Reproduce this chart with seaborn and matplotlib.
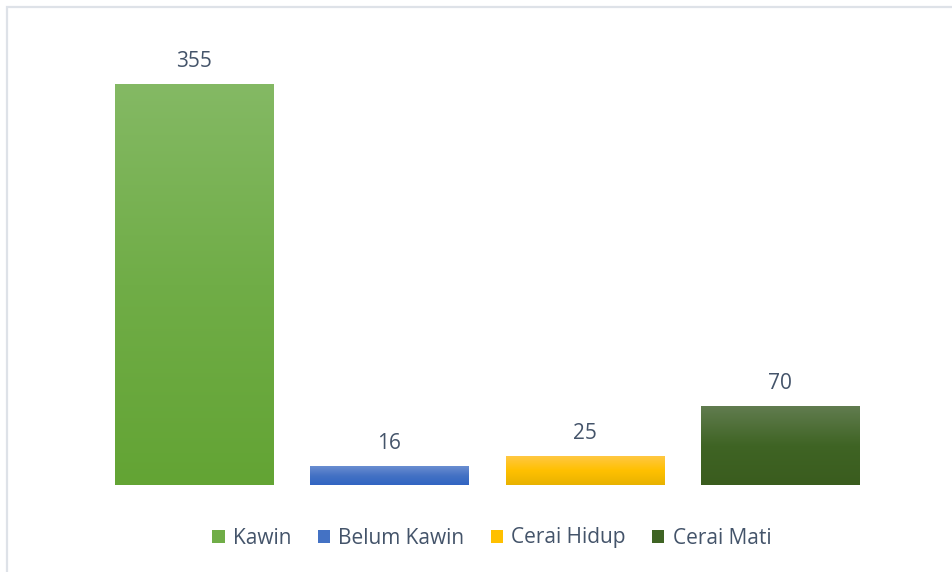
import numpy as np
import pandas as pd
import matplotlib
matplotlib.use("Agg")
import matplotlib.pyplot as plt
from matplotlib.colors import LinearSegmentedColormap
from matplotlib.patches import Rectangle, Patch
import seaborn as sns

# Marital status counts
categories = ["Kawin", "Belum Kawin", "Cerai Hidup", "Cerai Mati"]
values = [355, 16, 25, 70]

# Gradient stops per bar: top, middle, bottom
base_colors = ["#70AD47", "#4472C4", "#FFC000", "#3F6424"]
top_colors = ["#84B964", "#6A8ED1", "#FFC843", "#617C4F"]
bottom_colors = ["#63A434", "#3164C2", "#E8B200", "#3A5C1E"]

text_color = "#44546A"

sns.set_theme(style="white")
plt.rcParams["font.family"] = ["Open Sans", "DejaVu Sans"]

df = pd.DataFrame({"status": categories, "jumlah": values})

fig = plt.figure(figsize=(9.53, 5.72), dpi=100)
fig.patch.set_facecolor("white")
ax = fig.add_axes([96 / 953, (572 - 485) / 572, (878 - 96) / 953, 451 / 572])

sns.barplot(data=df, x="status", y="jumlah", hue="status",
            palette=base_colors, width=0.81, legend=False, ax=ax,
            saturation=1)

ax.set_xlim(-0.5, 3.5)
ax.set_ylim(0, 400)

# Replace flat fills with vertical gradients
grad = np.linspace(1, 0, 256).reshape(-1, 1)
for i, patch in enumerate(ax.patches):
    x0, y0 = patch.get_x(), patch.get_y()
    w, h = patch.get_width(), patch.get_height()
    cmap = LinearSegmentedColormap.from_list(
        f"g{i}", [bottom_colors[i], base_colors[i], top_colors[i]])
    ax.imshow(grad, extent=(x0, x0 + w, y0, y0 + h), aspect="auto",
              cmap=cmap, origin="upper", zorder=patch.get_zorder() + 0.1,
              interpolation="bilinear")
    patch.set_facecolor("none")
    patch.set_edgecolor("none")

ax.set_xlim(-0.5, 3.5)
ax.set_ylim(0, 400)

for container in ax.containers:
    ax.bar_label(container, labels=[f"{v:g}" for v in container.datavalues],
                 padding=9, fontsize=15, color=text_color)

ax.set_xlabel("")
ax.set_ylabel("")
ax.set_xticks([])
ax.set_yticks([])
for s in ax.spines.values():
    s.set_visible(False)

handles = [Patch(facecolor=c, edgecolor="none") for c in base_colors]
leg = fig.legend(handles, categories, loc="center",
                 bbox_to_anchor=(0.516, 1 - 538 / 572), ncol=4, frameon=False,
                 fontsize=15, handlelength=0.6, handleheight=0.6,
                 handletextpad=0.4, columnspacing=1.25)
for t in leg.get_texts():
    t.set_color(text_color)

# Chart frame
fig.patches.append(Rectangle((7 / 953, -0.05), 1.2, 1.05 - 6.5 / 572,
                             transform=fig.transFigure, fill=False,
                             edgecolor="#DEE2E8", linewidth=1.6))

fig.savefig("out.png", dpi=100, facecolor="white")
